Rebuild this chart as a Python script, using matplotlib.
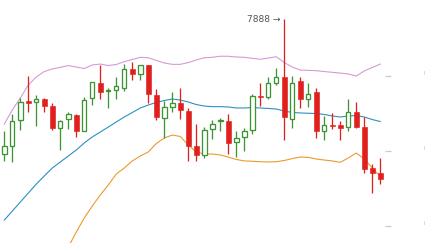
import numpy as np
import matplotlib
matplotlib.use("Agg")
import matplotlib.pyplot as plt

# ── candle data ──────────────────────────────────────────────────────────────
opens = [7798.2, 7803.6, 7820.5, 7833.2, 7832.5, 7834.9, 7830.0, 7815.2,
         7821.2, 7824.0, 7813.2, 7835.2, 7845.4, 7839.9, 7840.5, 7842.2,
         7854.7, 7851.6, 7857.4, 7837.4, 7821.8, 7829.6, 7831.8, 7826.9,
         7803.4, 7797.4, 7814.5, 7819.8, 7820.0, 7805.8, 7809.2, 7814.0,
         7836.7, 7835.8, 7845.6, 7849.4, 7821.2, 7846.7, 7834.5, 7839.2,
         7813.6, 7817.4, 7817.4, 7815.8, 7825.8, 7816.0, 7788.7, 7785.4]
highs = [7813.4, 7824.5, 7835.2, 7850.0, 7837.4, 7835.6, 7831.8, 7820.5,
         7826.2, 7824.7, 7835.8, 7846.2, 7857.4, 7841.8, 7849.2, 7858.0,
         7859.6, 7857.4, 7857.4, 7841.4, 7833.7, 7839.7, 7841.8, 7828.7,
         7818.0, 7815.8, 7820.7, 7822.2, 7824.5, 7813.4, 7815.6, 7838.2,
         7845.6, 7849.6, 7855.2, 7888.0, 7850.0, 7849.6, 7845.2, 7841.8,
         7823.6, 7825.6, 7820.0, 7834.7, 7832.7, 7822.9, 7791.4, 7795.2]
lows = [7793.4, 7792.9, 7814.2, 7825.8, 7816.5, 7825.8, 7813.8, 7800.7,
        7814.7, 7809.2, 7813.2, 7830.9, 7834.5, 7828.5, 7834.9, 7840.0,
        7847.6, 7847.2, 7831.8, 7820.4, 7809.0, 7825.8, 7821.2, 7793.6,
        7793.4, 7795.2, 7808.2, 7813.6, 7798.0, 7796.2, 7799.8, 7811.4,
        7830.2, 7834.9, 7843.8, 7807.4, 7815.6, 7828.5, 7829.6, 7808.9,
        7807.2, 7814.5, 7807.4, 7813.6, 7815.4, 7785.2, 7771.8, 7778.0]
closes = [7803.6, 7820.0, 7832.5, 7832.2, 7834.7, 7829.8, 7815.2, 7820.0,
          7824.7, 7813.2, 7834.0, 7845.8, 7839.6, 7840.4, 7843.2, 7854.7,
          7851.6, 7857.4, 7837.8, 7822.9, 7829.2, 7831.8, 7827.4, 7803.4,
          7797.4, 7813.8, 7817.8, 7820.3, 7805.6, 7808.7, 7813.2, 7836.7,
          7836.0, 7845.2, 7849.2, 7822.9, 7845.2, 7834.7, 7838.0, 7813.6,
          7817.2, 7816.7, 7815.6, 7825.8, 7816.2, 7788.2, 7785.6, 7781.6]

# ── Bollinger bands ──────────────────────────────────────────────────────────
upper = [7818.0, 7827.4, 7835.4, 7844.0, 7849.4, 7853.0, 7854.7, 7855.8,
         7857.0, 7856.0, 7855.0, 7857.4, 7858.0, 7857.0, 7857.7, 7859.6,
         7861.0, 7862.5, 7862.2, 7860.4, 7858.7, 7857.8, 7857.8, 7859.0,
         7860.7, 7862.2, 7862.5, 7863.2, 7863.2, 7862.7, 7862.5, 7861.8,
         7861.2, 7862.0, 7862.9, 7859.0, 7856.0, 7854.0, 7853.8, 7853.6,
         7853.0, 7852.5, 7852.0, 7851.4, 7850.0, 7853.4, 7855.7, 7858.0]
middle = [7754.0, 7760.0, 7766.0, 7772.0, 7778.0, 7783.4, 7788.7, 7792.7,
          7796.7, 7800.7, 7805.4, 7809.4, 7812.7, 7816.0, 7819.4, 7822.7,
          7825.7, 7828.7, 7830.7, 7832.4, 7833.7, 7834.7, 7834.0, 7832.7,
          7831.0, 7830.0, 7829.6, 7829.6, 7829.4, 7828.7, 7828.7, 7829.0,
          7828.7, 7828.4, 7828.0, 7826.7, 7825.7, 7825.4, 7825.2, 7825.0,
          7824.4, 7823.4, 7822.7, 7823.4, 7823.7, 7822.7, 7821.0, 7819.7]
lower = [7690.0, 7692.7, 7696.7, 7700.0, 7706.7, 7713.7, 7722.7, 7729.6,
         7736.0, 7746.0, 7755.4, 7763.4, 7770.7, 7777.4, 7784.7, 7788.7,
         7793.4, 7796.7, 7799.4, 7805.0, 7808.7, 7810.7, 7809.7, 7804.0,
         7799.4, 7798.0, 7798.0, 7797.4, 7796.0, 7794.4, 7793.4, 7793.2,
         7792.9, 7792.7, 7792.9, 7793.7, 7795.0, 7796.0, 7795.8, 7794.7,
         7794.0, 7793.4, 7792.5, 7795.4, 7798.7, 7794.7, 7788.7, 7783.0]

grid_levels = [7850, 7800, 7750]
max_label = "7888 →"

RED = "#e0201c"
GREEN = "#3c9433"
PX = 0.72  # one pixel in points at dpi 100

fig = plt.figure(figsize=(4.25, 2.43), dpi=100)
ax = fig.add_axes([0, 0, 1, 1])
ax.axis("off")

xs = np.arange(len(opens))
o, h, l, c = map(np.array, (opens, highs, lows, closes))
up = c >= o
col = np.where(up, GREEN, RED)

# bands
ax.plot(xs, upper, color="#d59ad5", lw=PX * 1.1, zorder=1)
ax.plot(xs, middle, color="#2a8fbf", lw=PX * 1.1, zorder=1)
ax.plot(xs, lower, color="#eb9a2a", lw=PX * 1.1, zorder=1)

# wicks
ax.vlines(xs, l, h, colors=col, lw=PX * 1.3, zorder=2)

# bodies
bottom = np.minimum(o, c)
height = np.maximum(np.abs(c - o), 0.7)
ax.bar(xs[up], height[up], bottom=bottom[up], width=0.55,
       facecolor="white", edgecolor=GREEN, linewidth=PX * 1.3, zorder=3)
ax.bar(xs[~up], height[~up], bottom=bottom[~up], width=0.62,
       facecolor=RED, edgecolor=RED, linewidth=PX * 0.6, zorder=3)

# max price marker
imax = int(np.argmax(h))
ax.annotate(max_label, xy=(imax, h[imax]), xytext=(-4, 0),
            textcoords="offset pixels", ha="right", va="center",
            fontsize=6.6, color="#555555")

# little right-hand grid ticks (axis labels sit off the right edge)
for lv in grid_levels:
    ax.plot([47.6, 48.35], [lv, lv], color="#cccccc", lw=PX * 1.3,
            solid_capstyle="butt")
    ax.plot([52.5, 52.5], [lv + 1.3, lv + 3.3], color="#dddddd", lw=PX)

ax.set_xlim(-4.3 / 8, (425 - 4.3) / 8)
ax.set_ylim(7738.7, 7900.7)

fig.savefig("out.png", dpi=100)
